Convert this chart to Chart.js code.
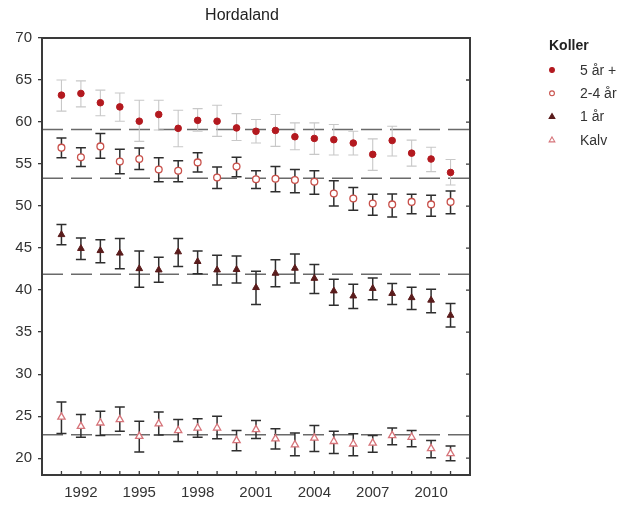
<!DOCTYPE html>
<html>
<head>
<meta charset="utf-8">
<script src="https://cdn.jsdelivr.net/npm/chart.js@4"></script>
<style>
  body { margin: 0; background: #fff; }
  #wrap { width: 627px; height: 506px; }
</style>
</head>
<body>
<div id="wrap"><canvas id="chart" width="627" height="506"></canvas></div>
<script>
// år
const years = [1991, 1992, 1993, 1994, 1995, 1996, 1997, 1998, 1999, 2000, 2001,
               2002, 2003, 2004, 2005, 2006, 2007, 2008, 2009, 2010, 2011];
const xLabels = [1992, 1995, 1998, 2001, 2004, 2007, 2010];
const yTicks = [20, 25, 30, 35, 40, 45, 50, 55, 60, 65, 70];

// Koller 5 år +
const adult = [63.2, 63.4, 62.3, 61.8, 60.1, 60.9, 59.25, 60.2, 60.1, 59.3, 58.9,
               59.0, 58.25, 58.05, 57.9, 57.5, 56.15, 57.8, 56.3, 55.6, 54.0];
const adultLow = [61.3, 61.8, 60.75, 60.1, 57.7, 59.05, 57.06, 58.9, 58.3, 57.8, 57.5,
                  57.1, 56.7, 56.15, 56.07, 56.07, 54.25, 55.95, 54.75, 54.1, 52.5];
const adultHigh = [65.0, 64.9, 63.8, 63.45, 62.6, 62.6, 61.4, 61.6, 62.0, 61.0, 60.3,
                   60.9, 59.9, 59.9, 59.7, 58.9, 58.0, 59.5, 57.85, 57.0, 55.55];

// 2-4 år
const young = [56.95, 55.8, 57.1, 55.3, 55.6, 54.35, 54.2, 55.2, 53.4, 54.7, 53.2,
               53.25, 53.1, 52.9, 51.5, 50.9, 50.3, 50.2, 50.5, 50.2, 50.5];
const youngLow = [55.75, 54.7, 55.7, 53.85, 54.35, 52.9, 52.9, 54.05, 52.1, 53.5, 52.1,
                  51.7, 51.6, 51.4, 50.0, 49.5, 48.9, 48.7, 49.1, 48.8, 49.1];
const youngHigh = [58.1, 56.95, 58.65, 56.75, 56.9, 55.75, 55.4, 56.35, 54.65, 55.8, 54.2,
                   54.7, 54.35, 54.2, 53.0, 52.2, 51.4, 51.45, 51.4, 51.3, 51.8];

// 1 år
const yearling = [46.6, 44.95, 44.7, 44.4, 42.55, 42.4, 44.55, 43.4, 42.4, 42.45, 40.3,
                  42.0, 42.6, 41.4, 39.9, 39.3, 40.2, 39.6, 39.1, 38.8, 37.0];
const yearlingLow = [45.4, 43.65, 43.25, 42.55, 40.35, 40.95, 42.8, 41.95, 40.6, 40.85, 38.3,
                     40.4, 40.85, 39.6, 38.2, 37.8, 38.85, 38.3, 37.7, 37.3, 35.6];
const yearlingHigh = [47.8, 46.2, 46.0, 46.15, 44.65, 43.9, 46.15, 44.65, 44.15, 44.05, 42.25,
                      43.6, 44.3, 43.05, 41.3, 40.7, 41.45, 40.8, 40.35, 40.1, 38.4];

// Kalv
const calf = [24.9, 23.8, 24.2, 24.6, 22.6, 24.1, 23.3, 23.6, 23.6, 22.1, 23.4,
              22.3, 21.6, 22.4, 22.0, 21.7, 21.8, 22.7, 22.5, 21.15, 20.55];
const calfLow = [22.95, 22.5, 22.7, 23.2, 20.75, 22.75, 22.0, 22.5, 22.3, 20.9, 22.35,
                 21.1, 20.3, 20.8, 20.55, 20.3, 20.7, 21.6, 21.35, 20.05, 19.7];
const calfHigh = [26.7, 25.2, 25.6, 26.1, 24.4, 25.5, 24.6, 24.7, 25.0, 23.3, 24.5,
                  23.5, 23.0, 23.9, 23.2, 22.9, 22.7, 23.6, 23.3, 22.1, 21.45];

// gjennomsnitt (stiplede linjer)
const means = [59.1, 53.3, 41.9, 22.8];

const xMin = 1990, xMax = 2012;

function pts(vals) {
    return vals.map((v, i) => ({ x: years[i], y: v }));
}

function meanLine(v) {
    return {
        data: [{ x: xMin, y: v }, { x: xMax, y: v }],
        showLine: true,
        borderColor: '#6a6a6a',
        borderWidth: 1.5,
        borderDash: [21, 8],
        pointRadius: 0,
        order: 10
    };
}

const series = [
    { label: '5 år +', data: pts(adult), low: adultLow, high: adultHigh, barColor: '#c8c8c8', barWidth: 1.1,
      pointStyle: 'circle', pointRadius: 3.3, pointBackgroundColor: '#b3191f', pointBorderColor: '#b3191f', pointBorderWidth: 1 },
    { label: '2-4 år', data: pts(young), low: youngLow, high: youngHigh, barColor: '#2e2e2e', barWidth: 1.5,
      pointStyle: 'circle', pointRadius: 3.4, pointBackgroundColor: '#ffffff', pointBorderColor: '#c8504a', pointBorderWidth: 1.3 },
    { label: '1 år', data: pts(yearling), low: yearlingLow, high: yearlingHigh, barColor: '#2e2e2e', barWidth: 1.5,
      pointStyle: 'triangle', pointRadius: 3.9, pointBackgroundColor: '#5a1c1c', pointBorderColor: '#5a1c1c', pointBorderWidth: 1 },
    { label: 'Kalv', data: pts(calf), low: calfLow, high: calfHigh, barColor: '#2e2e2e', barWidth: 1.5,
      pointStyle: 'triangle', pointRadius: 4.2, pointBackgroundColor: '#ffffff', pointBorderColor: '#d6747a', pointBorderWidth: 1.3 }
];
series.forEach(s => { s.showLine = false; s.order = 1; });

// feilstolper, tegnet rett før punktene i hvert datasett
const errorBars = {
    id: 'errorBars',
    beforeDatasetDraw(chart, args) {
        const ds = chart.data.datasets[args.index];
        if (!ds.low) return;
        const ctx = chart.ctx;
        const xs = chart.scales.x, ys = chart.scales.y;
        ctx.save();
        ctx.strokeStyle = ds.barColor;
        ctx.lineWidth = ds.barWidth;
        ds.data.forEach((p, i) => {
            const x = xs.getPixelForValue(p.x);
            const y1 = ys.getPixelForValue(ds.low[i]);
            const y2 = ys.getPixelForValue(ds.high[i]);
            ctx.beginPath();
            ctx.moveTo(x, y1); ctx.lineTo(x, y2);
            ctx.moveTo(x - 5, y1); ctx.lineTo(x + 5, y1);
            ctx.moveTo(x - 5, y2); ctx.lineTo(x + 5, y2);
            ctx.stroke();
        });
        ctx.restore();
    }
};

function marker(ctx, style, x, y, r, fill, stroke) {
    ctx.beginPath();
    if (style === 'circle') {
        ctx.arc(x, y, r, 0, Math.PI * 2);
    } else {
        ctx.moveTo(x, y - r);
        ctx.lineTo(x + r * 0.95, y + r * 0.65);
        ctx.lineTo(x - r * 0.95, y + r * 0.65);
        ctx.closePath();
    }
    ctx.fillStyle = fill;
    ctx.fill();
    ctx.strokeStyle = stroke;
    ctx.lineWidth = 1.1;
    ctx.stroke();
}

// ramme, tittel og forklaring
const frame = {
    id: 'frame',
    afterDraw(chart) {
        const ctx = chart.ctx;
        const a = chart.chartArea;
        const ys = chart.scales.y, xs = chart.scales.x;
        ctx.save();
        ctx.strokeStyle = '#3a3a3a';
        ctx.lineWidth = 2;
        ctx.strokeRect(a.left, a.top, a.right - a.left, a.bottom - a.top);
        ctx.lineWidth = 1.3;
        ctx.beginPath();
        yTicks.forEach(v => {
            const y = ys.getPixelForValue(v);
            ctx.moveTo(a.right, y); ctx.lineTo(a.right - 4, y);
        });
        years.forEach(v => {
            const x = xs.getPixelForValue(v);
            ctx.moveTo(x, a.bottom); ctx.lineTo(x, a.bottom - 4);
        });
        ctx.stroke();

        ctx.fillStyle = '#222';
        ctx.font = '16px "Liberation Sans", Arial, sans-serif';
        ctx.textAlign = 'center';
        ctx.textBaseline = 'middle';
        ctx.fillText('Hordaland', 242, 16);

        ctx.textAlign = 'left';
        ctx.font = 'bold 14px "Liberation Sans", Arial, sans-serif';
        ctx.fillText('Koller', 549, 46);
        ctx.font = '14px "Liberation Sans", Arial, sans-serif';
        series.forEach((s, i) => {
            const y = 70 + i * 23.3;
            const r = s.pointStyle === 'circle' ? 2.4 : 3;
            marker(ctx, s.pointStyle, 552, y, r, s.pointBackgroundColor, s.pointBorderColor);
            ctx.fillStyle = '#333';
            ctx.fillText(s.label, 580, y + 1);
        });
        ctx.restore();
    }
};

Chart.defaults.font.family = '"Liberation Sans", Arial, sans-serif';
Chart.defaults.font.size = 15;
Chart.defaults.color = '#333';

new Chart(document.getElementById('chart').getContext('2d'), {
    type: 'scatter',
    data: {
        datasets: [...series, ...means.map(meanLine)]
    },
    options: {
        responsive: false,
        animation: false,
        devicePixelRatio: 1,
        layout: { padding: { left: 0, right: 157, top: 38, bottom: 0 } },
        plugins: { legend: { display: false }, tooltip: { enabled: false } },
        scales: {
            x: {
                type: 'linear',
                min: xMin,
                max: xMax,
                afterBuildTicks(scale) { scale.ticks = years.map(v => ({ value: v })); },
                afterFit(scale) { scale.height = 31; },
                ticks: {
                    autoSkip: false,
                    maxRotation: 0,
                    padding: 9,
                    callback: v => xLabels.includes(v) ? String(v) : ''
                },
                grid: { drawOnChartArea: false, drawTicks: false },
                border: { display: false }
            },
            y: {
                min: 18,
                max: 70,
                afterBuildTicks(scale) { scale.ticks = yTicks.map(v => ({ value: v })); },
                afterFit(scale) { scale.width = 42; },
                ticks: { padding: 6 },
                grid: { drawOnChartArea: false, tickLength: 4, color: '#3a3a3a', lineWidth: 1.3 },
                border: { display: false }
            }
        }
    },
    plugins: [errorBars, frame]
});
</script>
</body>
</html>
